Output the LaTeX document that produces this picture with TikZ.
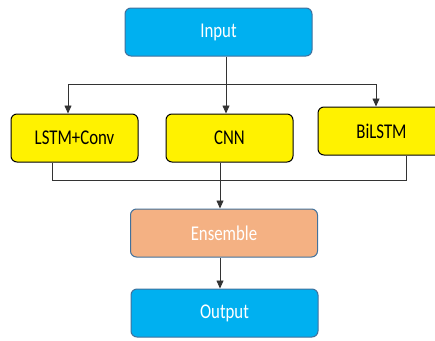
\documentclass[tikz,border=0pt]{standalone}
\usepackage{fontspec}
\setmainfont[FakeStretch=0.8]{Carlito}
\usetikzlibrary{arrows.meta}
\usetikzlibrary{shapes.geometric}

\definecolor{inblue}{HTML}{00B0F0}
\definecolor{edgeblue}{HTML}{41719C}
\definecolor{ensorange}{HTML}{F4B183}

\tikzset{
  box/.style={draw, line width=1pt, rounded corners=6pt, minimum width=187pt, minimum height=48pt, inner sep=0pt, font=\fontsize{21}{24}\selectfont},
  iobox/.style={box, fill=inblue, draw=edgeblue, text=white},
  modelbox/.style={box, fill=yellow, draw=black, minimum width=127pt},
  ensbox/.style={box, fill=ensorange, draw=edgeblue, text=white},
  link/.style={line width=0.8pt, draw=black!80},
  arr/.style={link, -{Triangle[width=7pt,length=8pt]}}
}

\begin{document}
\begin{tikzpicture}[x=1pt,y=-1pt]
\useasboundingbox (0,0) rectangle (435,340);

\node[iobox] (input) at (218.5,32) {Input};
\node[modelbox] (lstm) at (74.5,138) {LSTM+Conv};
\node[modelbox] (cnn) at (229.5,138) {CNN};
\node[modelbox] (bilstm) at (381.5,131) {BiLSTM};
\node[ensbox] (ens) at (224,233) {Ensemble};
\node[iobox] (output) at (224.5,313) {Output};

% split from the input
\coordinate (split) at (226,84);
\coordinate (toleft) at (68,84);
\coordinate (toright) at (376,84);
\draw[link] (input.south -| split) -- (split);
\draw[arr] (split) -- (cnn.north -| split);
\draw[arr] (split) -- (toleft) -- (lstm.north -| toleft);
\draw[arr] (split) -- (toright) -- (bilstm.north -| toright);

% merge into the ensemble
\coordinate (joinleft) at (52,180);
\coordinate (joinright) at (406,180);
\coordinate (join) at (220,180);
\draw[link] (lstm.south -| joinleft) -- (joinleft) -- (joinright) -- (bilstm.south -| joinright);
\draw[arr] (cnn.south -| join) -- (ens.north -| join);
\draw[arr] (ens.south -| join) -- (output.north -| join);
\end{tikzpicture}
\end{document}
